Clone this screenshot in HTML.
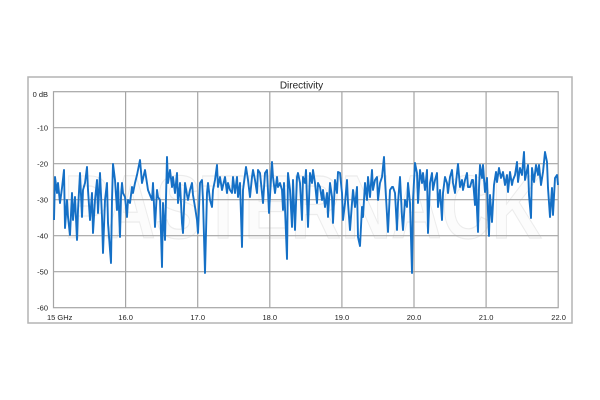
<!DOCTYPE html>
<html><head><meta charset="utf-8"><style>
html,body{margin:0;padding:0;background:#fff;}
svg{display:block;}
text{font-family:"Liberation Sans",sans-serif;}
</style></head><body>
<svg width="600" height="400" viewBox="0 0 600 400" xmlns="http://www.w3.org/2000/svg">
<rect x="0" y="0" width="600" height="400" fill="#fff"/>
<rect x="28" y="77" width="544" height="246" fill="#fff" stroke="#b4b4b4" stroke-width="1.5"/>
<text x="301.5" y="88.5" font-size="10" text-anchor="middle" fill="#222">Directivity</text>
<text x="303" y="238" font-size="90" font-weight="bold" text-anchor="middle" textLength="478" lengthAdjust="spacingAndGlyphs" fill="#fcfcfc" stroke="#ececec" stroke-width="1.2">PASTERNACK</text>
<g stroke="#a5a5a5" stroke-width="1.2" fill="none">
<line x1="53.5" y1="127.7" x2="558.2" y2="127.7"/>
<line x1="53.5" y1="163.7" x2="558.2" y2="163.7"/>
<line x1="53.5" y1="199.7" x2="558.2" y2="199.7"/>
<line x1="53.5" y1="235.7" x2="558.2" y2="235.7"/>
<line x1="53.5" y1="271.7" x2="558.2" y2="271.7"/>
<line x1="125.6" y1="91.7" x2="125.6" y2="307.7"/>
<line x1="197.7" y1="91.7" x2="197.7" y2="307.7"/>
<line x1="269.8" y1="91.7" x2="269.8" y2="307.7"/>
<line x1="341.9" y1="91.7" x2="341.9" y2="307.7"/>
<line x1="414" y1="91.7" x2="414" y2="307.7"/>
<line x1="486.1" y1="91.7" x2="486.1" y2="307.7"/>
<rect x="53.5" y="91.7" width="504.7" height="216"/>
</g>
<polyline fill="none" stroke="#1570c6" stroke-width="1.9" stroke-linejoin="round" points="
54,220 55,177 57,193 58,183 60,203 62,188 64,170 65,228 67,200 68,217 70,235 72,193 73,220 75,197 77,240 78,210 80,173 82,217 83,190 85,183 87,167 88,190 90,220 92,193 93,233 95,200 97,180 98,213 99,193 100,173 102,217 103,253 105,200 107,183 108,223 111,263 112,200 113,164 115,180 117,210 118,183 120,237 121,197 122,183 123,193 125,197 127,217 128,200 130,203 132,187 133,193 135,183
137,175 140,160 142,183 145,170 148,190 152,200 153,183 155,227 157,190 158,197 160,200 162,267 163,203 165,240 167,157 168,183 170,170 172,187 173,177 175,193 177,173 178,203 180,183 182,223 183,233 185,183 187,195 188,200 190,190 192,183 193,195 195,207 197,220 198,233 200,183 202,180 203,200 205,273 207,193 208,183 210,200 212,207 213,190 215,180 217,165 218,187 220,177
222,190 225,177 227,193 228,183 230,190 232,193 233,177 235,193 237,177 238,197 240,183 242,247 243,190 246,167 248,180 250,197 252,177 253,170 255,180 257,193 258,170 260,173 263,203 265,173 267,170 269,213 272,162 273,177 275,193 277,177 278,187 280,183 282,190 283,210 284,183 287,259 288,173 290,190 292,227 293,180 295,230 297,177 298,173 300,183 302,220 303,177 305,183
306,170 308,227 310,173 312,183 313,170 315,183 317,203 318,183 320,187 322,200 323,190 325,207 327,193 328,217 330,183 332,197 333,223 335,180 337,193 338,172 340,173 342,193 343,220 345,203 347,180 348,203 350,230 352,203 353,190 355,207 357,187 358,237 360,246 362,207 363,217 365,183 367,200 368,177 370,197 372,170 373,190 375,180 377,177 378,200 380,183 382,177 384,157 385,180 388,232 390,190 392,187
393,187 395,193 397,230 398,203 400,177 402,217 403,230 405,200 407,207 408,183 410,203 412,273 413,200 415,163 417,173 418,203 420,170 422,183 423,173 425,190 427,170 428,233 430,183 432,173 433,190 435,180 437,173 438,207 440,190 442,220 443,193 445,177 447,183 448,193 450,177 452,170 453,183 455,193 457,173 458,164 460,187 462,180 463,190 465,180 467,173 468,187 470,187 472,180 473,180 475,205
476,175 477,210 478,232 479,188 480,165 482,178 483,165 485,192 487,178 488,212 489,236 490,195 492,222 494,185 496,172 497,182 499,168 501,178 503,172 505,185 507,175 508,192 510,172 512,185 513,180 515,175 517,162 518,182 520,168 522,175 524,152 525,180 528,165 529,195 531,218 532,168 534,182 536,165 538,175 539,165 541,185 543,172 545,152 547,162 548,188 550,217 552,188 553,215 555,178 557,175 558,185"/>
<g font-size="7.5" fill="#222" text-anchor="end">
<text x="48" y="97">0 dB</text>
<text x="48" y="130.5">-10</text>
<text x="48" y="166.5">-20</text>
<text x="48" y="202.5">-30</text>
<text x="48" y="238.5">-40</text>
<text x="48" y="274.5">-50</text>
<text x="48" y="310.5">-60</text>
</g>
<g font-size="7.5" fill="#222" text-anchor="middle">
<text x="47" y="320" text-anchor="start">15 GHz</text>
<text x="125.6" y="320">16.0</text>
<text x="197.7" y="320">17.0</text>
<text x="269.8" y="320">18.0</text>
<text x="341.9" y="320">19.0</text>
<text x="414" y="320">20.0</text>
<text x="486.1" y="320">21.0</text>
<text x="558.6" y="320">22.0</text>
</g>
</svg>
</body></html>
